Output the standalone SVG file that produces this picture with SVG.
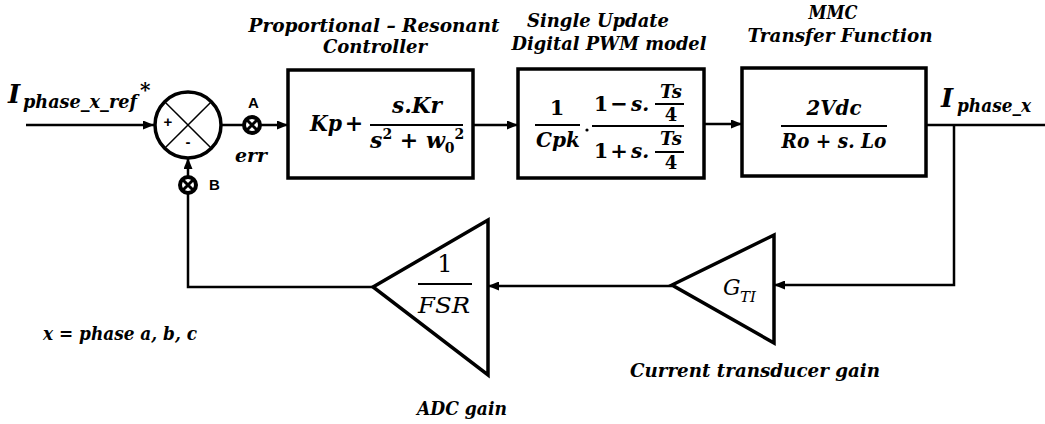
<svg xmlns="http://www.w3.org/2000/svg" width="1045" height="424" viewBox="0 0 1045 424">
<style>
.box{fill:#fff;stroke:#000;stroke-width:3.5}
.ln{fill:none;stroke:#000;stroke-width:2.5}
.thin{fill:none;stroke:#000;stroke-width:1.5}
.t{font-family:"DejaVu Serif","Liberation Serif",serif;font-weight:bold;font-style:italic;fill:#000}
.u{font-family:"DejaVu Serif","Liberation Serif",serif;font-weight:bold;fill:#000}
.m{font-family:"DejaVu Serif","Liberation Serif",serif;font-style:italic;fill:#000}
.s{font-family:"Liberation Sans",Arial,sans-serif;font-weight:bold;fill:#000}
.fr{stroke:#000;stroke-width:2}
</style>
<defs>
<marker id="ah" markerUnits="userSpaceOnUse" markerWidth="11" markerHeight="9" refX="11" refY="4.5" orient="auto">
<path d="M0,0 L11,4.5 L0,9 z" fill="#000"/>
</marker>
<g id="probe">
<circle r="8" fill="#fff" stroke="#000" stroke-width="4"/>
<path d="M-5,-5 L5,5 M5,-5 L-5,5" stroke="#000" stroke-width="3"/>
</g>
</defs>

<g id="connectors">
<line class="ln" x1="26" y1="125" x2="154" y2="125" marker-end="url(#ah)"/>
<line class="ln" x1="221" y1="125" x2="288" y2="125" marker-end="url(#ah)"/>
<line class="ln" x1="473" y1="125" x2="518" y2="125" marker-end="url(#ah)"/>
<line class="ln" x1="704" y1="124" x2="742" y2="124" marker-end="url(#ah)"/>
<line class="ln" x1="926" y1="125" x2="1045" y2="125"/>
<polyline class="ln" points="954,125 954,285 774,285" marker-end="url(#ah)"/>
<line class="ln" x1="672" y1="286" x2="488" y2="286" marker-end="url(#ah)"/>
<polyline class="ln" points="373,287 188,287 188,158" marker-end="url(#ah)"/>
</g>

<g id="probeA">
<use href="#probe" x="252" y="125"/>
<text class="s" x="248" y="108" font-size="15">A</text>
<text class="t" x="235" y="162" font-size="18" textLength="32" lengthAdjust="spacingAndGlyphs">err</text>
</g>
<g id="probeB">
<use href="#probe" x="188" y="185"/>
<text class="s" x="209" y="190" font-size="15">B</text>
</g>

<g id="sum">
<circle cx="188" cy="125" r="33" fill="#fff" stroke="#000" stroke-width="3.5"/>
<path class="thin" d="M164.7,101.7 L211.3,148.3 M211.3,101.7 L164.7,148.3"/>
<text class="s" x="168" y="127" font-size="15" text-anchor="middle">+</text>
<text class="s" x="188" y="147" font-size="15" text-anchor="middle">-</text>
</g>

<g id="input-label">
<text class="t" x="8" y="103" font-size="26">I</text>
<text class="t" x="23" y="108" font-size="18" textLength="114" lengthAdjust="spacingAndGlyphs">phase_x_ref</text>
<text class="t" x="140" y="97" font-size="20">*</text>
</g>

<g id="pr-controller">
<text class="t" x="374" y="32" font-size="18" text-anchor="middle" textLength="251" lengthAdjust="spacingAndGlyphs">Proportional – Resonant</text>
<text class="t" x="375" y="53" font-size="18" text-anchor="middle" textLength="104" lengthAdjust="spacingAndGlyphs">Controller</text>
<rect class="box" x="288" y="70" width="185" height="108"/>
<text class="t" x="310" y="131" font-size="22" textLength="32" lengthAdjust="spacingAndGlyphs">Kp</text>
<text class="u" x="354" y="131" font-size="22" text-anchor="middle">+</text>
<line class="fr" x1="370" y1="125" x2="463" y2="125"/>
<text class="t" x="417" y="113" font-size="22" text-anchor="middle" textLength="50" lengthAdjust="spacingAndGlyphs">s.Kr</text>
<text class="t" x="370" y="148" font-size="22">s<tspan font-size="14" dy="-9" font-style="normal">2</tspan><tspan dy="9" font-style="normal"> + </tspan>w<tspan font-size="14" dy="5" font-style="normal">0</tspan><tspan font-size="14" dy="-14" font-style="normal">2</tspan></text>
</g>

<g id="pwm-model">
<text class="t" x="598" y="27" font-size="18" text-anchor="middle" textLength="142" lengthAdjust="spacingAndGlyphs">Single Update</text>
<text class="t" x="609" y="50" font-size="18" text-anchor="middle" textLength="195" lengthAdjust="spacingAndGlyphs">Digital PWM model</text>
<rect class="box" x="518" y="69" width="186" height="109"/>
<text class="u" x="557" y="115" font-size="21" text-anchor="middle">1</text>
<line class="fr" x1="535" y1="125" x2="580" y2="125"/>
<text class="t" x="558" y="147" font-size="21" text-anchor="middle" textLength="44" lengthAdjust="spacingAndGlyphs">Cpk</text>
<circle cx="587" cy="130" r="1.6" fill="#000"/>
<line class="fr" x1="592" y1="126" x2="684" y2="126"/>
<text class="u" x="601" y="111" font-size="21" text-anchor="middle">1</text>
<text class="u" x="619" y="111" font-size="21" text-anchor="middle">−</text>
<text class="t" x="631" y="111" font-size="20">s.</text>
<line class="fr" x1="655" y1="104" x2="684" y2="104"/>
<text class="t" x="671" y="98" font-size="18" text-anchor="middle">Ts</text>
<text class="u" x="671" y="121" font-size="18" text-anchor="middle">4</text>
<text class="u" x="601" y="158" font-size="21" text-anchor="middle">1</text>
<text class="u" x="619" y="158" font-size="21" text-anchor="middle">+</text>
<text class="t" x="631" y="158" font-size="20">s.</text>
<line class="fr" x1="655" y1="152" x2="684" y2="152"/>
<text class="t" x="671" y="145" font-size="18" text-anchor="middle">Ts</text>
<text class="u" x="671" y="169" font-size="18" text-anchor="middle">4</text>
</g>

<g id="mmc">
<text class="t" x="833" y="19" font-size="18" text-anchor="middle" textLength="49" lengthAdjust="spacingAndGlyphs">MMC</text>
<text class="t" x="840" y="42" font-size="18" text-anchor="middle" textLength="185" lengthAdjust="spacingAndGlyphs">Transfer Function</text>
<rect class="box" x="742" y="68" width="184" height="108"/>
<text class="t" x="834" y="115" font-size="21" text-anchor="middle" textLength="55" lengthAdjust="spacingAndGlyphs">2Vdc</text>
<line class="fr" x1="781" y1="126" x2="887" y2="126"/>
<text class="t" x="834" y="148" font-size="21" text-anchor="middle" textLength="105" lengthAdjust="spacingAndGlyphs">Ro + s. Lo</text>
</g>

<g id="output-label">
<text class="t" x="941" y="107" font-size="26">I</text>
<text class="t" x="957" y="112" font-size="18" textLength="74" lengthAdjust="spacingAndGlyphs">phase_x</text>
</g>

<g id="transducer">
<polygon points="672,285 774,235 774,343" fill="#fff" stroke="#000" stroke-width="3.5" stroke-linejoin="miter"/>
<text class="m" x="723" y="295" font-size="22">G</text>
<text class="m" x="740" y="302" font-size="15">TI</text>
<text class="t" x="755" y="377" font-size="18" text-anchor="middle" textLength="250" lengthAdjust="spacingAndGlyphs">Current transducer gain</text>
</g>

<g id="adc">
<polygon points="373,287 488,220 488,375" fill="#fff" stroke="#000" stroke-width="3.5"/>
<text x="445" y="272" font-size="24" text-anchor="middle" font-family="DejaVu Serif, serif">1</text>
<line class="fr" x1="418" y1="284" x2="472" y2="284"/>
<text class="m" x="444" y="313" font-size="22" text-anchor="middle" textLength="52" lengthAdjust="spacingAndGlyphs">FSR</text>
<text class="t" x="462" y="415" font-size="18" text-anchor="middle" textLength="90" lengthAdjust="spacingAndGlyphs">ADC gain</text>
</g>

<g id="note">
<text class="t" x="43" y="340" font-size="19" textLength="154" lengthAdjust="spacingAndGlyphs">x = phase a, b, c</text>
</g>
</svg>
